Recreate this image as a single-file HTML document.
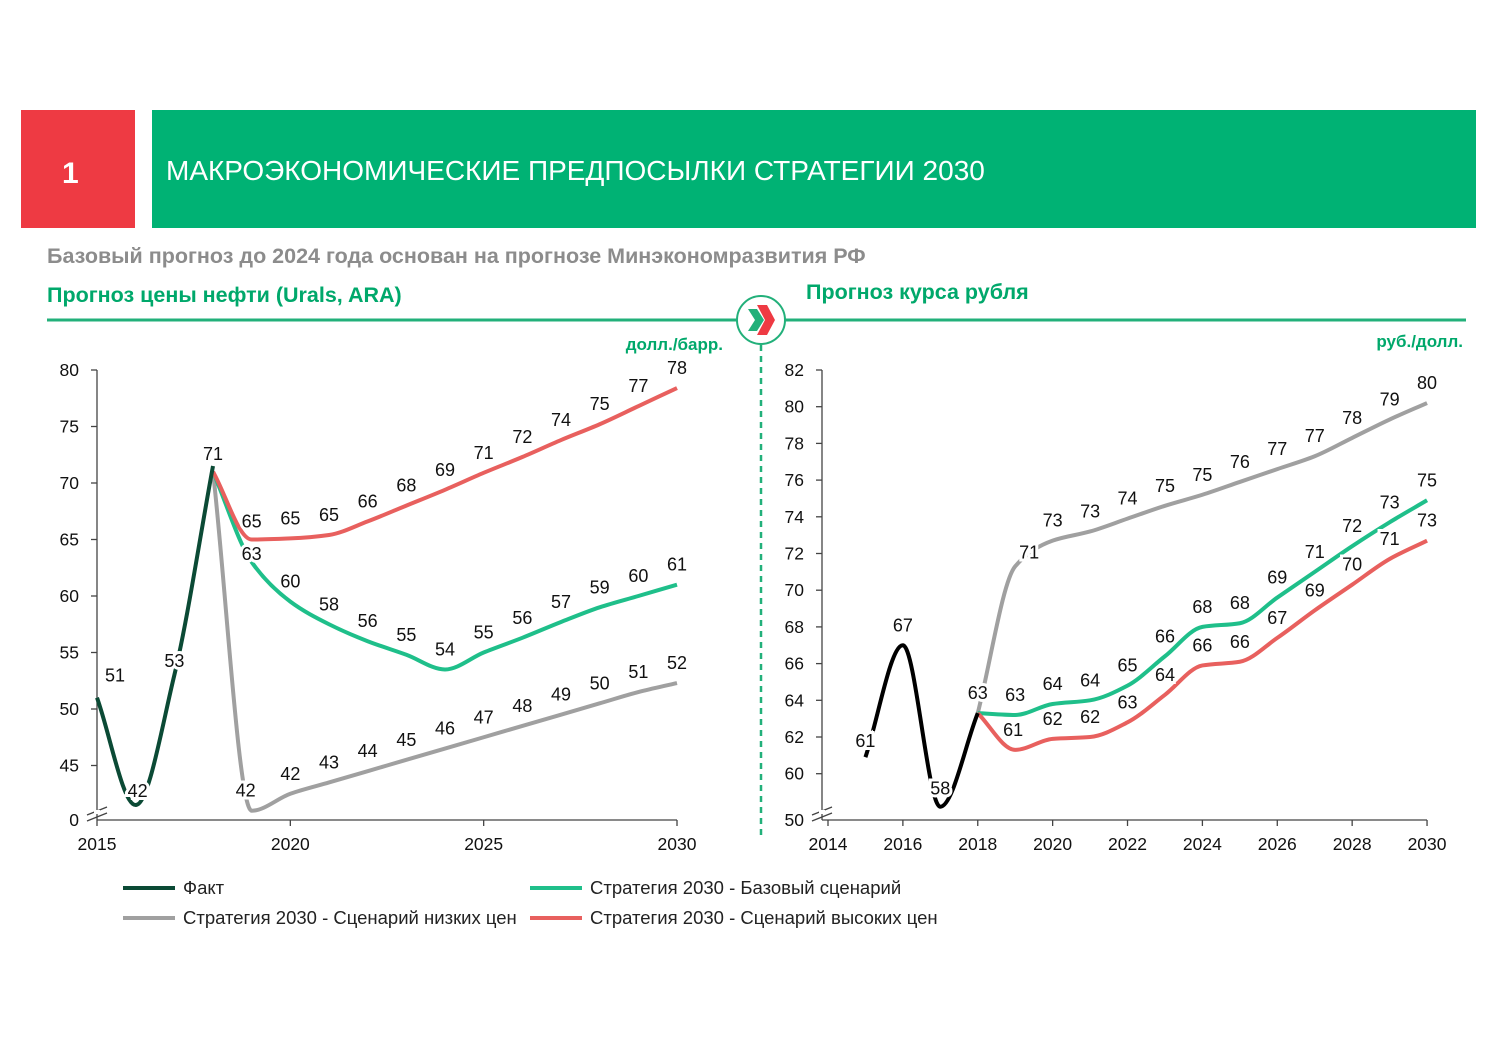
<!DOCTYPE html>
<html><head><meta charset="utf-8"><style>
body{margin:0;background:#fff;width:1497px;height:1058px;overflow:hidden;font-family:"Liberation Sans",sans-serif}
svg text{font-family:"Liberation Sans","DejaVu Sans",sans-serif}
</style></head><body>
<svg id="s" width="1497" height="1058">
<rect x="21" y="110" width="114" height="118" fill="#ee3a43"/>
<text x="62" y="183" fill="#fff" font-size="30" font-weight="bold">1</text>
<rect x="152" y="110" width="1324" height="118" fill="#00b274"/>
<text x="166" y="180" fill="#fff" font-size="28">МАКРОЭКОНОМИЧЕСКИЕ ПРЕДПОСЫЛКИ СТРАТЕГИИ 2030</text>
<text x="47" y="263" fill="#8c8c8c" font-size="21.5" font-weight="bold">Базовый прогноз до 2024 года основан на прогнозе Минэкономразвития РФ</text>
<text x="47" y="302" fill="#00a86b" font-size="21.5" font-weight="bold">Прогноз цены нефти (Urals, ARA)</text>
<text x="806" y="299" fill="#00a86b" font-size="21.5" font-weight="bold">Прогноз курса рубля</text>
<line x1="47" y1="320" x2="1466" y2="320" stroke="#22b07a" stroke-width="3"/>
<line x1="761" y1="345" x2="761" y2="835" stroke="#22b07a" stroke-width="2.5" stroke-dasharray="6,5"/>
<g>
<circle cx="761" cy="320" r="24" fill="#fff" stroke="#22b07a" stroke-width="2"/>
<polygon points="748,309 757,309 764,320 757,331 748,331 755,320" fill="#22b07a"/>
<polygon points="757,305 767,305 775,320 767,335 757,335 765,320" fill="#ee3a43"/>
</g>
<text x="723" y="350" text-anchor="end" fill="#00a86b" font-size="17" font-weight="bold">долл./барр.</text>
<text x="1463" y="347" text-anchor="end" fill="#00a86b" font-size="17" font-weight="bold">руб./долл.</text>
<g id="L"></g><g id="R"></g>
<g font-size="18.5" fill="#222">
<line x1="123" y1="888" x2="175" y2="888" stroke="#0b4a35" stroke-width="4"/><text x="183" y="894">Факт</text>
<line x1="123" y1="918" x2="175" y2="918" stroke="#a0a0a0" stroke-width="4"/><text x="183" y="924">Стратегия 2030 - Сценарий низких цен</text>
<line x1="530" y1="888" x2="582" y2="888" stroke="#1fbf8a" stroke-width="4"/><text x="590" y="894">Стратегия 2030 - Базовый сценарий</text>
<line x1="530" y1="918" x2="582" y2="918" stroke="#e8605e" stroke-width="4"/><text x="590" y="924">Стратегия 2030 - Сценарий высоких цен</text>
</g>
</svg>
<script>
// Oil chart data
const oilFactYears=[2015,2016,2017,2018];
const oilFact=[51,41.5,53,71.5];
const oilFactLbl=[51,42,53,71];
const oilFcYears=[2018,2019,2020,2021,2022,2023,2024,2025,2026,2027,2028,2029,2030];
const oilLow=[71,41,42.5,43.5,44.5,45.5,46.5,47.5,48.5,49.5,50.5,51.5,52.3];
const oilLowLbl=[null,42,42,43,44,45,46,47,48,49,50,51,52];
const oilBase=[71,63,59.5,57.5,56,54.8,53.5,55,56.3,57.7,59,60,61];
const oilBaseLbl=[null,63,60,58,56,55,54,55,56,57,59,60,61];
const oilHigh=[71,65,65.1,65.4,66.6,68,69.4,70.9,72.3,73.8,75.2,76.8,78.4];
const oilHighLbl=[null,65,65,65,66,68,69,71,72,74,75,77,78];
const oilTicks=[45,50,55,60,65,70,75,80];
const oilXTicks=[2015,2020,2025,2030];
// Ruble chart data
const rubFactYears=[2015,2016,2017,2018];
const rubFact=[60.9,67,58.2,63.3];
const rubFactLbl=[61,67,58,63];
const rubFcYears=[2018,2019,2020,2021,2022,2023,2024,2025,2026,2027,2028,2029,2030];
const rubLow=[63.3,71.3,72.7,73.2,73.9,74.6,75.2,75.9,76.6,77.3,78.3,79.3,80.2];
const rubLowLbl=[null,71,73,73,74,75,75,76,77,77,78,79,80];
const rubBase=[63.3,63.2,63.8,64.0,64.8,66.4,68.0,68.2,69.6,71.0,72.4,73.7,74.9];
const rubBaseLbl=[null,63,64,64,65,66,68,68,69,71,72,73,75];
const rubHigh=[63.3,61.3,61.9,62.0,62.8,64.3,65.9,66.1,67.4,68.9,70.3,71.7,72.7];
const rubHighLbl=[null,61,62,62,63,64,66,66,67,69,70,71,73];
const rubTicks=[60,62,64,66,68,70,72,74,76,78,80,82];
const rubXTicks=[2014,2016,2018,2020,2022,2024,2026,2028,2030];

const NS="http://www.w3.org/2000/svg";
function mk(p,t,a){const e=document.createElementNS(NS,t);for(const k in a)e.setAttribute(k,a[k]);p.appendChild(e);return e;}
function smooth(pts){const n=pts.length;const d=[],m=[];
 for(let i=0;i<n-1;i++)d.push((pts[i+1][1]-pts[i][1])/(pts[i+1][0]-pts[i][0]));
 for(let i=0;i<n;i++){if(i==0)m.push(d[0]);else if(i==n-1)m.push(d[n-2]);else m.push(d[i-1]*d[i]<=0?0:2/(1/d[i-1]+1/d[i]));}
 let s="M"+pts[0][0]+","+pts[0][1];
 for(let i=0;i<n-1;i++){const h=(pts[i+1][0]-pts[i][0])/3;
  s+=" C"+(pts[i][0]+h)+","+(pts[i][1]+m[i]*h)+" "+(pts[i+1][0]-h)+","+(pts[i+1][1]-m[i+1]*h)+" "+pts[i+1][0]+","+pts[i+1][1];}
 return s;}
function label(g,x,y,txt){const t=mk(g,"text",{x:x,y:y,"text-anchor":"middle","font-size":18,fill:"#111",stroke:"#fff","stroke-width":6,"paint-order":"stroke"});t.textContent=txt;

}
function chart(gid,X,Y,x0,x1,yTop,yBot,ticks,xt,zeroLbl,series){
 const g=document.getElementById(gid);
 const ax=mk(g,"g",{stroke:"#444","stroke-width":1.3});
 
 
 mk(ax,"line",{x1:x0,y1:yTop,x2:x0,y2:yBot});mk(ax,"line",{x1:x0,y1:yBot,x2:x1,y2:yBot});
 mk(ax,"line",{x1:x0-10,y1:yBot-5,x2:x0+10,y2:yBot-13,stroke:"#444"});mk(ax,"line",{x1:x0-10,y1:yBot+1,x2:x0+10,y2:yBot-7,stroke:"#444"});
 mk(ax,"rect",{x:x0-3,y:yBot-10,width:6,height:4,fill:"#fff",stroke:"none"});
 ticks.forEach(v=>{mk(ax,"line",{x1:x0-6,y1:Y(v),x2:x0,y2:Y(v)});const t=mk(g,"text",{x:x0-18,y:Y(v)+6,"text-anchor":"end","font-size":17.5,fill:"#111"});t.textContent=v;
  
  });
 const z=mk(g,"text",{x:x0-18,y:yBot+6,"text-anchor":"end","font-size":17.5,fill:"#111"});z.textContent=zeroLbl;
 xt.forEach(v=>{mk(ax,"line",{x1:X(v),y1:yBot,x2:X(v),y2:yBot+6});const t=mk(g,"text",{x:X(v),y:yBot+30,"text-anchor":"middle","font-size":17.5,fill:"#111"});t.textContent=v;
  
  });
 series.forEach(s=>{const pts=s.yrs.map((yr,i)=>[X(yr),Y(s.v[i])]);
  const p=mk(g,"path",{d:smooth(pts),fill:"none",stroke:s.c,"stroke-width":4,"stroke-linejoin":"round"});
  
  });
 series.forEach(s=>{s.lbl.forEach((l,i)=>{if(l==null)return;const o=(s.off&&s.off[i])||[0,-14];label(g,X(s.yrs[i])+o[0],Y(s.v[i])+o[1],l);});});
}
// oil
const oX=y=>97+(y-2015)*38.667, oY=v=>370+(80-v)*11.3;
chart("L",oX,oY,97,677,370,820,oilTicks,oilXTicks,0,[
 {name:"oil-low-line",yrs:oilFcYears,v:oilLow,lbl:oilLowLbl,c:"#a0a0a0",off:[null,[-6,-14],[0,-14]]},
 {name:"oil-base-line",yrs:oilFcYears,v:oilBase,lbl:oilBaseLbl,c:"#1fbf8a",off:[null,[0,-2]]},
 {name:"oil-high-line",yrs:oilFcYears,v:oilHigh,lbl:oilHighLbl,c:"#e8605e",off:[null,[0,-12],[0,-14]]},
 {name:"oil-fact-line",yrs:oilFactYears,v:oilFact,lbl:oilFactLbl,c:"#0b4a35",off:[[18,-16],[2,-8],[0,-8],[0,-6]]}
]);
// ruble
const rX=y=>828+(y-2014)*37.44, rY=v=>370+(82-v)*18.35;
chart("R",rX,rY,822,1427,370,820,rubTicks,rubXTicks,50,[
 {name:"rub-low-line",yrs:rubFcYears,v:rubLow,lbl:rubLowLbl,c:"#a0a0a0",off:[null,[14,-8]]},
 {name:"rub-base-line",yrs:rubFcYears,v:rubBase,lbl:rubBaseLbl,c:"#1fbf8a"},
 {name:"rub-high-line",yrs:rubFcYears,v:rubHigh,lbl:rubHighLbl,c:"#e8605e",off:[null,[-2,-14]]},
 {name:"rub-fact-line",yrs:rubFactYears,v:rubFact,lbl:rubFactLbl,c:"#000",off:[[0,-10],[0,-14],[0,-12],[0,-14]]}
]);
</script>
</body></html>
